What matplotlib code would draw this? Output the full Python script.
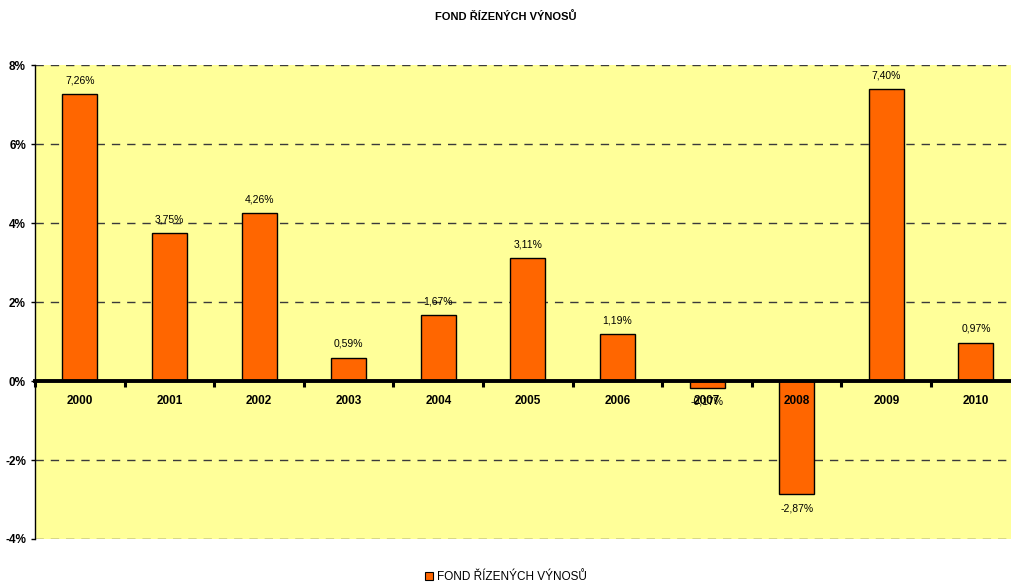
import matplotlib
matplotlib.use("Agg")
import matplotlib.pyplot as plt
from matplotlib.ticker import FixedLocator, FuncFormatter
from matplotlib.patches import Patch

plt.rcParams['font.family'] = ['Liberation Sans Narrow', 'Liberation Sans', 'DejaVu Sans']

# data
years = ["2000", "2001", "2002", "2003", "2004", "2005", "2006", "2007", "2008", "2009", "2010"]
returns = [7.26, 3.75, 4.26, 0.59, 1.67, 3.11, 1.19, -0.17, -2.87, 7.40, 0.97]
title = "FOND ŘÍZENÝCH VÝNOSŮ"
y_ticks = [-4, -2, 0, 2, 4, 6, 8]

fig = plt.figure(figsize=(10.12, 5.87), dpi=100)
ax = fig.add_axes([0.0346, 0.0818, 0.974, 0.807])
ax.set_facecolor("#FFFF99")

x = list(range(len(years)))
ax.bar(x, returns, width=0.39, color="#FF6600", edgecolor="black", linewidth=1.0, zorder=3)

ax.set_xlim(-0.5, len(years) - 0.5)
ax.set_ylim(-4, 8)
ax.yaxis.set_major_locator(FixedLocator(y_ticks))
ax.yaxis.set_major_formatter(FuncFormatter(lambda v, p: f"{v:.0f}%"))
for g in y_ticks:
    if g != 0:
        ax.axhline(g, color="#3a3a3a", lw=1.0, ls=(0, (6, 5)), zorder=1)

# category axis at zero
ax.spines['bottom'].set_position(('data', 0))
ax.spines['bottom'].set_linewidth(2.8)
ax.spines['bottom'].set_zorder(4)
ax.spines['top'].set_visible(False)
ax.spines['right'].set_visible(False)
ax.spines['left'].set_linewidth(1.0)
ax.xaxis.set_major_locator(FixedLocator([i - 0.5 for i in range(len(years) + 1)]))
ax.xaxis.set_major_formatter(FuncFormatter(lambda v, p: ""))
ax.tick_params(axis='x', direction='out', length=4, width=2.2)
ax.tick_params(axis='y', direction='out', length=3, width=1, labelsize=8.5)
for lab in ax.get_yticklabels():
    lab.set_fontweight('bold')

for i, yr in enumerate(years):
    ax.annotate(yr, (i, 0), xytext=(0, -14), textcoords='offset points',
                ha='center', va='center', fontsize=8.5, fontweight='bold', zorder=5)

for i, v in enumerate(returns):
    lbl = f"{v:.2f}%".replace(".", ",")
    off = 10 if v >= 0 else -10
    ax.annotate(lbl, (i, v), xytext=(0, off), textcoords='offset points',
                ha='center', va='center', fontsize=7.5, zorder=5)

fig.text(0.5, 0.972, title, ha='center', va='center', fontsize=8, fontweight='bold')

handle = Patch(facecolor="#FF6600", edgecolor="black", linewidth=0.8)
fig.legend([handle], [title], loc='center', bbox_to_anchor=(0.5, 0.017), frameon=False,
           fontsize=8.5, handlelength=0.7, handleheight=0.7, handletextpad=0.3)

fig.savefig("out.png", dpi=100)
